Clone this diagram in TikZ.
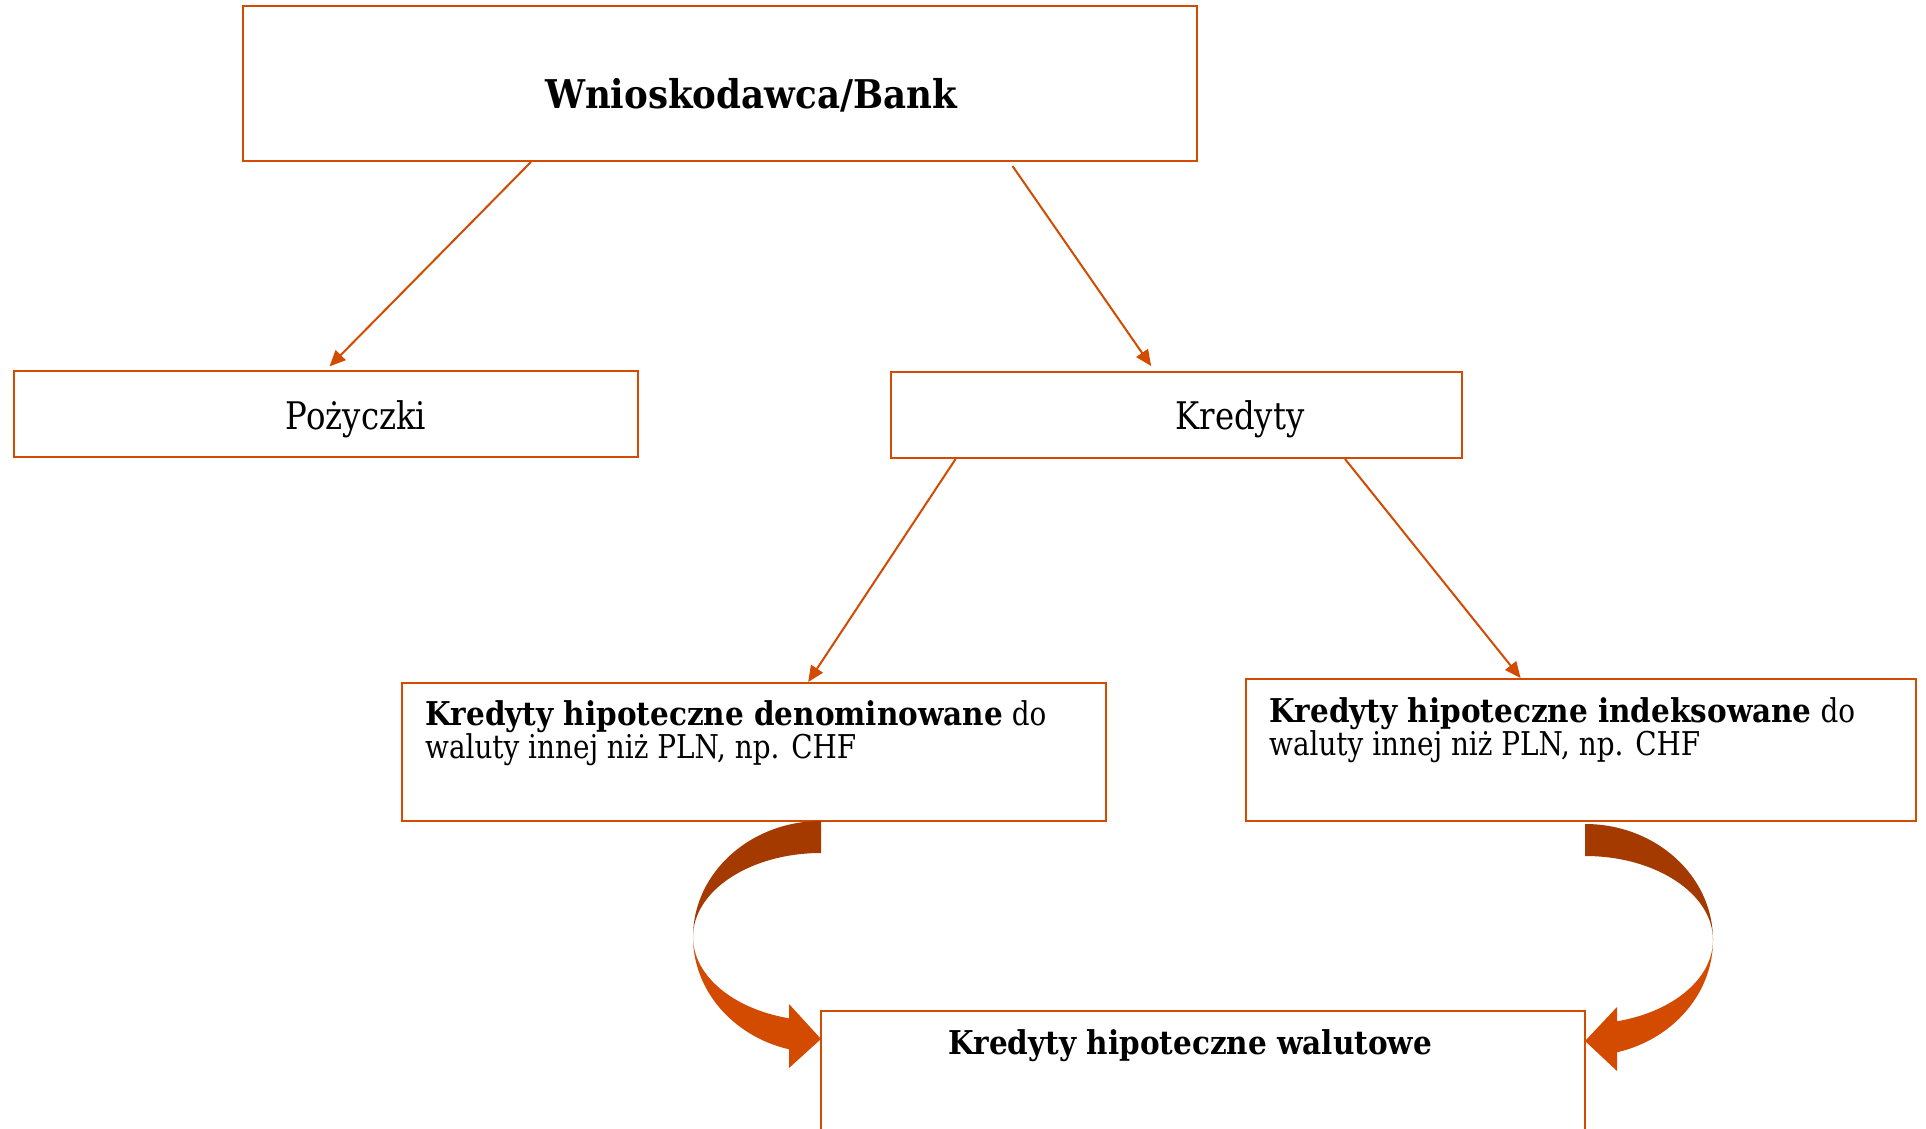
\documentclass[tikz,border=0pt]{standalone}
\usepackage{fontspec}
\setmainfont[FakeStretch=0.85, BoldFeatures={FakeStretch=0.9}]{DejaVu Serif}
\usetikzlibrary{arrows.meta}
\definecolor{orng}{HTML}{D24B00}
\definecolor{rust}{HTML}{A53A00}
\newlength\mytmpw
\newcommand\fitsize[3]{\settowidth\mytmpw{\fontsize{10pt}{12pt}\selectfont #2}\pgfmathsetmacro#1{10*#3/\mytmpw}}
\fitsize{\szTop}{\bfseries Wnioskodawca/Bank}{412}
\fitsize{\szMid}{Kredyty}{129}
\fitsize{\szSmall}{waluty innej niż PLN, np. CHF}{431}
\fitsize{\szWal}{\bfseries Kredyty hipoteczne walutowe}{484}
\tikzset{
  box/.style={draw=orng, line width=2pt, rectangle, inner sep=0pt, fill=white},
  txt/.style={inner sep=0pt, text=black},
  conn/.style={draw=orng, line width=2pt, -{Triangle[length=16pt,width=14pt]}},
}
\begin{document}
\begin{tikzpicture}[x=1pt,y=1pt]
\useasboundingbox (0,0) rectangle (1926,1128);
\clip (0,0) rectangle (1926,1128);
\fill[white] (0,0) rectangle (1926,1128);
% boxes
\node[box, minimum width=954pt, minimum height=155pt] (top) at (720,1044.5) {};
\node[box, minimum width=624pt, minimum height=86pt] (poz) at (325.5,714) {};
\node[box, minimum width=571pt, minimum height=86pt] (kred) at (1176,713) {};
\node[box, minimum width=704pt, minimum height=137.5pt] (den) at (753.5,376.25) {};
\node[box, minimum width=670.5pt, minimum height=141.5pt] (ind) at (1580.75,378.25) {};
\node[box, minimum width=764pt, minimum height=137pt] (wal) at (1202.5,48.5) {};
% texts
\node[txt, anchor=base, font={\fontsize{\szTop pt}{\szTop pt}\selectfont\bfseries}] (ttop) at (751,1019) {Wnioskodawca/Bank};
\node[txt, anchor=base, font={\fontsize{\szMid pt}{\szMid pt}\selectfont}] (tpoz) at (356,698) {Pożyczki};
\node[txt, anchor=base, font={\fontsize{\szMid pt}{\szMid pt}\selectfont}] (tkred) at (1240,698) {Kredyty};
\node[txt, anchor=base west, align=left, font={\fontsize{\szSmall pt}{33pt}\selectfont}] (tden) at (425,370) {\textbf{Kredyty hipoteczne denominowane} do\\waluty innej niż PLN, np. CHF};
\node[txt, anchor=base west, align=left, font={\fontsize{\szSmall pt}{33pt}\selectfont}] (tind) at (1269,373) {\textbf{Kredyty hipoteczne indeksowane} do\\waluty innej niż PLN, np. CHF};
\node[txt, anchor=base, font={\fontsize{\szWal pt}{\szWal pt}\selectfont\bfseries}] (twal) at (1190,74) {Kredyty hipoteczne walutowe};
% connectors
\draw[conn, shorten >=5pt] (531,0 |- top.south) -- (326,0 |- poz.north);
\draw[conn, shorten <=5pt, shorten >=6pt] (1009.7,0 |- top.south) -- (1154.6,0 |- kred.north);
\draw[conn] (955.6,0 |- kred.south) -- (808.2,0 |- den.north);
\draw[conn] (1345,0 |- kred.south) -- (1520.6,0 |- ind.north);
% curved arrow left
\fill[rust] (821,307) arc[start angle=90, end angle=180, x radius=128pt, y radius=116pt]
  arc[start angle=180, end angle=90, x radius=128pt, y radius=84pt] -- cycle;
\fill[orng] (693,191) arc[start angle=180, end angle=255.52, x radius=128pt, y radius=116pt]
  -- (789,60) -- (821,89) -- (789,124) -- (789,109.7)
  arc[start angle=255.52, end angle=180, x radius=128pt, y radius=84pt] -- cycle;
% curved arrow right
\fill[rust] (1585,304) arc[start angle=90, end angle=0, x radius=128pt, y radius=116pt]
  arc[start angle=0, end angle=90, x radius=128pt, y radius=84pt] -- cycle;
\fill[orng] (1713,188) arc[start angle=0, end angle=-75.52, x radius=128pt, y radius=116pt]
  -- (1617,57) -- (1585,87) -- (1617,121) -- (1617,106.7)
  arc[start angle=-75.52, end angle=0, x radius=128pt, y radius=84pt] -- cycle;
\end{tikzpicture}
\end{document}
